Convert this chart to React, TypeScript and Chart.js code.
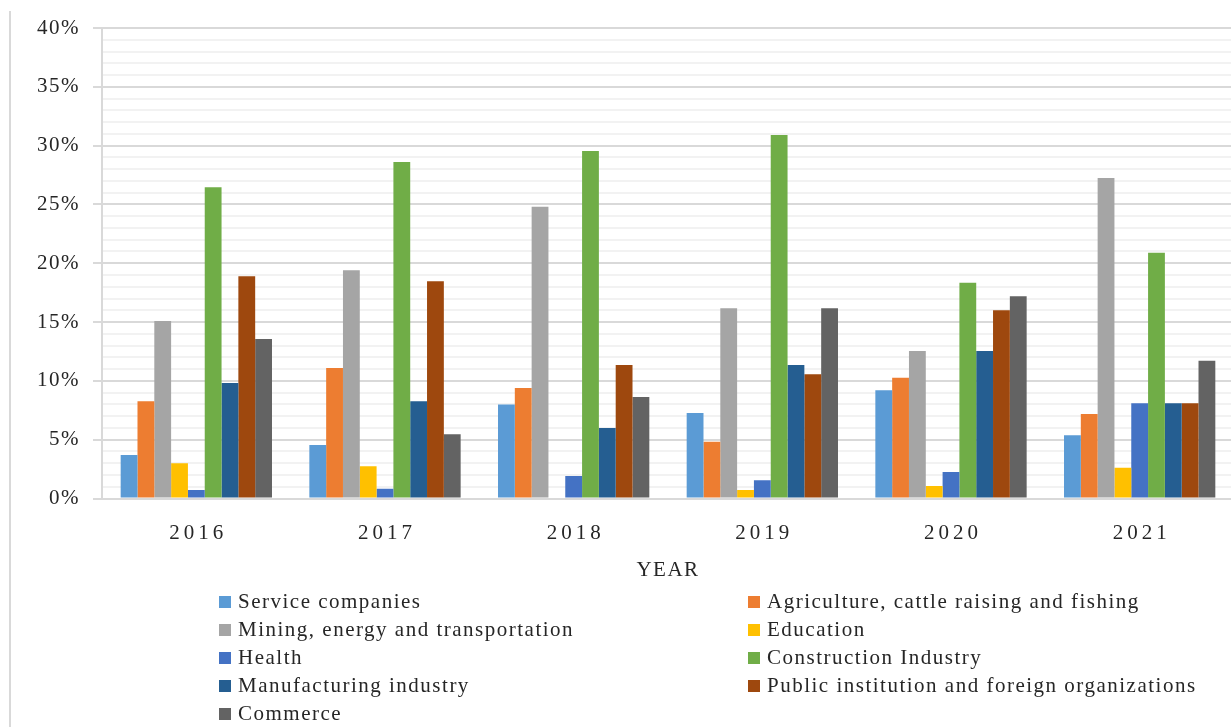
import React, { useEffect, useRef } from 'react';
import { Chart, registerables } from 'chart.js';

Chart.register(...registerables);

const categories = ['2016', '2017', '2018', '2019', '2020', '2021'];
const xTitle = 'YEAR';

const serviceCompanies = [3.7, 4.55, 8.0, 7.27, 9.2, 5.37];
const agriculture = [8.27, 11.1, 9.4, 4.83, 10.27, 7.19];
const mining = [15.1, 19.4, 24.8, 16.17, 12.54, 27.25];
const education = [3.0, 2.74, 0, 0.72, 1.06, 2.62];
const health = [0.72, 0.83, 1.91, 1.55, 2.25, 8.1];
const construction = [26.46, 28.6, 29.55, 30.9, 18.35, 20.9];
const manufacturing = [9.82, 8.27, 6.0, 11.35, 12.54, 8.1];
const publicInstitution = [18.9, 18.47, 11.35, 10.56, 16.0, 8.1];
const commerce = [13.56, 5.46, 8.63, 16.17, 17.19, 11.72];

const seriesNames = [
  'Service companies',
  'Agriculture, cattle raising and fishing',
  'Mining, energy and transportation',
  'Education',
  'Health',
  'Construction Industry',
  'Manufacturing industry',
  'Public institution and foreign organizations',
  'Commerce',
];
const seriesData = [
  serviceCompanies,
  agriculture,
  mining,
  education,
  health,
  construction,
  manufacturing,
  publicInstitution,
  commerce,
];
const seriesColors = [
  '#5B9BD5',
  '#ED7D31',
  '#A5A5A5',
  '#FFC000',
  '#4472C4',
  '#70AD47',
  '#255E91',
  '#9E480E',
  '#636363',
];

const yMin = 0;
const yMax = 40;
const yMajorStep = 5;

const FONT = '"Liberation Serif", "Times New Roman", serif';
const TEXT_COLOR = '#262626';

const textPlugin = {
  id: 'textPlugin',
  beforeDraw(chart: any) {
    (chart.ctx as any).letterSpacing = '1.5px';
  },
  afterDraw(chart: any) {
    const ctx = chart.ctx;
    const xs = chart.scales.x;
    ctx.save();
    ctx.fillStyle = TEXT_COLOR;
    ctx.font = `21px ${FONT}`;
    ctx.textAlign = 'center';
    ctx.textBaseline = 'alphabetic';
    (ctx as any).letterSpacing = '4px';
    categories.forEach((c, i) => {
      ctx.fillText(c, xs.getPixelForTick(i) + 2, 539);
    });
    (ctx as any).letterSpacing = '1.5px';
    ctx.fillText(xTitle, (chart.chartArea.left + chart.chartArea.right) / 2, 576);
    ctx.restore();
  },
};

export default function App() {
  const ref = useRef<HTMLCanvasElement>(null);

  useEffect(() => {
    document.body.style.margin = '0';
    document.body.style.overflow = 'hidden';
    Chart.defaults.font.family = FONT;
    const chart = new Chart(ref.current as HTMLCanvasElement, {
      type: 'bar',
      data: {
        labels: categories,
        datasets: seriesNames.map((name, i) => ({
          label: name,
          data: seriesData[i],
          backgroundColor: seriesColors[i],
          borderWidth: 0,
          categoryPercentage: 0.802,
          barPercentage: 1,
        })),
      },
      options: {
        responsive: false,
        maintainAspectRatio: false,
        animation: false,
        layout: { padding: { top: 28, left: 0, right: 0, bottom: 0 } },
        plugins: {
          legend: { display: false },
          tooltip: { enabled: false },
        },
        scales: {
          x: {
            grid: { display: false, drawTicks: false },
            border: { display: true, color: '#d9d9d9', width: 2 },
            ticks: { display: false },
            afterFit: (s: any) => {
              s.height = 228.5;
            },
          },
          y: {
            min: yMin,
            max: yMax,
            ticks: {
              stepSize: 1,
              autoSkip: false,
              padding: 13,
              color: TEXT_COLOR,
              font: { size: 21, family: FONT },
              callback: (v: any) => (Number(v) % yMajorStep === 0 ? `${v}%` : ''),
            },
            grid: {
              color: (c: any) => (c.tick && c.tick.value % yMajorStep === 0 ? '#d9d9d9' : '#f2f2f2'),
              lineWidth: (c: any) => (c.tick && c.tick.value % yMajorStep === 0 ? 2 : 2),
              tickColor: (c: any) => (c.tick && c.tick.value % yMajorStep === 0 ? '#d9d9d9' : 'rgba(0,0,0,0)'),
              tickLength: 9,
            },
            border: { color: '#d9d9d9', width: 2 },
            afterFit: (s: any) => {
              s.width = 102;
            },
          },
        },
      },
      plugins: [textPlugin],
    } as any);
    return () => chart.destroy();
  }, []);

  const legendFont: React.CSSProperties = {
    fontFamily: FONT,
    fontSize: '21px',
    letterSpacing: '1.5px',
    color: TEXT_COLOR,
    lineHeight: '28px',
    whiteSpace: 'nowrap',
  };

  return (
    <div
      style={{
        position: 'fixed',
        left: 0,
        top: 0,
        width: 1231,
        height: 727,
        overflow: 'hidden',
        background: '#ffffff',
      }}
    >
      <div style={{ position: 'absolute', left: 9, top: 11, width: 2, bottom: 0, background: '#d9d9d9' }} />
      <canvas ref={ref} width={1234} height={727} style={{ position: 'absolute', left: 0, top: 0 }} />
      {seriesNames.map((name, i) => {
        const col = i % 2;
        const row = Math.floor(i / 2);
        return (
          <div
            key={name}
            style={{
              ...legendFont,
              position: 'absolute',
              left: col === 0 ? 219 : 748,
              top: 587 + row * 28,
              height: 28,
            }}
          >
            <span
              style={{
                display: 'inline-block',
                width: 12,
                height: 12,
                marginRight: 7,
                background: seriesColors[i],
              }}
            />
            {name}
          </div>
        );
      })}
    </div>
  );
}
